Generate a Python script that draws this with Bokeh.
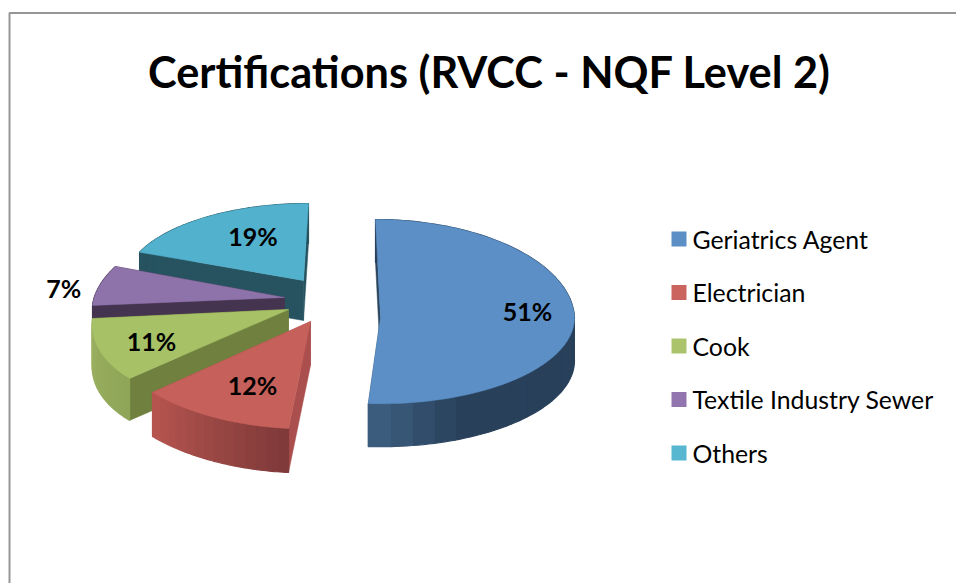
import math
from bokeh.plotting import figure
from bokeh.models import Range1d
from bokeh.core.properties import value
from bokeh.embed import file_html
from bokeh.resources import INLINE

title = "Certifications (RVCC - NQF Level 2)"
categories = ["Geriatrics Agent", "Electrician", "Cook", "Textile Industry Sewer", "Others"]
shares = [51, 12, 11, 7, 19]

# styles
top_colors = ["#5B8FC6", "#C6605A", "#A7C166", "#8E73AB", "#52B1CC"]
side_colors = ["#2A445C", "#AA4F4D", "#70803F", "#453450", "#26535F"]
wall_from = ["#28405A", "#7F3A39", "#8FA558", "#453450", "#26535F"]
wall_to = ["#3C5C7E", "#B5544F", "#9CB160", "#453450", "#26535F"]
legend_colors = ["#5B8FC6", "#CB645E", "#ABC46C", "#9274AF", "#57B6D0"]

# projection of each exploded slice: apex, half axes and skews, wall depth
apex = [(380, 317), (310, 321), (288, 309), (284, 297), (303, 280)]
ax_a = [194, 208.4, 194.8, 190.9, 178.3]
ax_b_back = [98, 107, 97, 90.1, 77]
ax_b_front = [86.2, 107.4, 97.6, 90.1, 77]
skew_back = [-5, 8.9, 24.7, 23.2, 5]
skew_front = [0, 8.9, 24.7, 23.2, 5]
skew_y = [0, 3.5, -2.9, -2.3, 0]
depth = [43, 44, 42, 42, 40]
label_frac = [0.763, 0.65, 0.73, 1.18, 0.65]
label_dt = [-7, -2.3, -0.9, -2.5, 6.8]

W, H = 956, 583
p = figure(width=W, height=H, output_backend="svg", toolbar_location=None,
           x_range=Range1d(0, W), y_range=Range1d(H, 0),
           min_border=0, outline_line_color=None, background_fill_color="white")
p.axis.visible = False
p.grid.visible = False

p.line([9, 9, W], [H, 12.5, 12.5], line_color="#969696", line_width=2)


def project(i, deg, frac=1.0):
    t = math.radians(deg)
    s, c = math.sin(t), math.cos(t)
    b = ax_b_back[i] if c > 0 else ax_b_front[i]
    k = skew_back[i] if c > 0 else skew_front[i]
    x = apex[i][0] + frac * (ax_a[i] * s + k * c)
    y = apex[i][1] + frac * (-b * c + skew_y[i] * s)
    return x, y


def mix(c1, c2, f):
    a = [int(c1[j:j + 2], 16) for j in (1, 3, 5)]
    b = [int(c2[j:j + 2], 16) for j in (1, 3, 5)]
    return "#%02x%02x%02x" % tuple(round(u + (v - u) * f) for u, v in zip(a, b))


total = sum(shares)
starts, cum = [], 0.0
for v in shares:
    starts.append(cum / total * 360)
    cum += v
ends = starts[1:] + [360.0]

# back-to-front painting order
for i in [0, 4, 3, 2, 1]:
    t0, t1 = starts[i], ends[i]
    d = depth[i]
    ax_, ay_ = apex[i]
    for t in (t0, t1):
        rx, ry = project(i, t)
        p.patch([ax_, rx, rx, ax_], [ay_, ry, ry + d, ay_ + d],
                fill_color=side_colors[i], line_color=side_colors[i], line_width=0.5)
    n = 28 if i == 0 else 14
    for j in range(n):
        a0 = t0 + (t1 - t0) * j / n
        a1 = t0 + (t1 - t0) * (j + 1) / n
        angs = [a0 + (a1 - a0) * q / 4 for q in range(5)]
        pts = [project(i, a) for a in angs]
        xs = [q[0] for q in pts] + [q[0] for q in reversed(pts)]
        ys = [q[1] for q in pts] + [q[1] + d for q in reversed(pts)]
        f = max(0.0, min(1.0, (j / (n - 1) - 0.86) / 0.14)) if i == 0 else j / (n - 1)
        col = mix(wall_from[i], wall_to[i], f)
        p.patch(xs, ys, fill_color=col, line_color=col, line_width=1.2)
    steps = max(8, int((t1 - t0) / 2))
    rim = [project(i, t0 + (t1 - t0) * q / steps) for q in range(steps + 1)]
    p.patch([ax_] + [q[0] for q in rim], [ay_] + [q[1] for q in rim],
            fill_color=top_colors[i], line_color=top_colors[i], line_width=0.5)

# data labels
for i, v in enumerate(shares):
    mid = (starts[i] + ends[i]) / 2 + label_dt[i]
    lx, ly = project(i, mid, label_frac[i])
    p.text([lx], [ly], text=[f"{v}%"], text_font=value("Lato"), text_font_style="bold",
           text_font_size="25px", text_color="#000000", text_align="center",
           text_baseline="middle")

# title
p.text([489], [70.5], text=[title], text_font=value("Lato"), text_font_style="bold",
       text_font_size="43.3px", text_color="#000000", text_align="center", text_baseline="middle")

# legend
for i, name in enumerate(categories):
    yc = 238.5 + i * 53.5
    p.scatter([678.5], [yc], marker="square", size=15, fill_color=legend_colors[i], line_color=None)
    p.text([692], [yc], text=[name], text_font=value("Lato"), text_font_size="24.8px",
           text_color="#000000", text_align="left", text_baseline="middle")

open("out.html", "w").write(file_html(p, INLINE))
